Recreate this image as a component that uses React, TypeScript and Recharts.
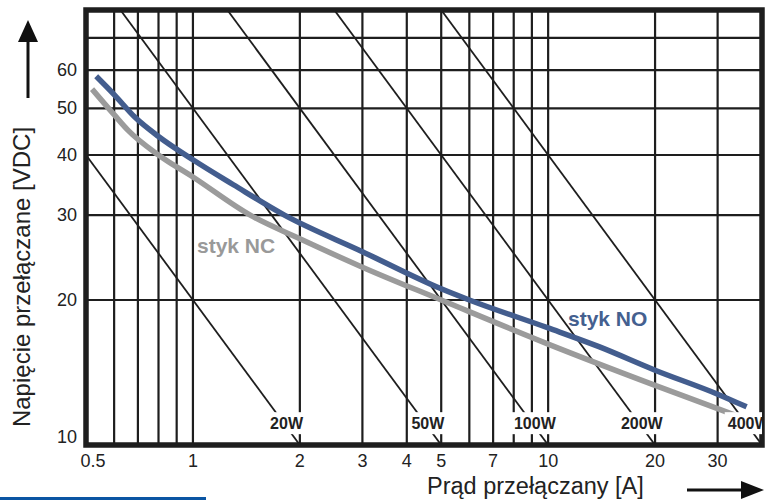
import React from "react";
import {
  LineChart,
  Line,
  XAxis,
  YAxis,
  CartesianGrid,
  ReferenceArea,
} from "recharts";

const FONT = "'Liberation Sans', Arial, sans-serif";

// axis ticks (grid) and which of them carry a label
const xTicks = [0.5, 0.6, 0.7, 0.8, 0.9, 1, 2, 3, 4, 5, 6, 7, 8, 9, 10, 20, 30, 40];
const xLabels = [0.5, 1, 2, 3, 4, 5, 7, 10, 20, 30];
const yTicks = [10, 20, 30, 40, 50, 60, 70, 80];
const yLabels = [10, 20, 30, 40, 50, 60];

// constant power lines [W]
const powers = [20, 50, 100, 200, 400];

// styk NO
const noCurrent = [0.534, 0.6, 0.687, 0.8, 1.0, 1.3, 1.81, 3.0, 5.0, 6.0, 10, 13.9, 20, 30, 36.2];
const noVoltage = [58.3, 53.4, 47.9, 43.7, 39.1, 34.7, 30.0, 25.2, 21.1, 20.0, 17.5, 16.0, 14.3, 12.75, 12.0];

// styk NC
const ncCurrent = [0.52, 0.6, 0.657, 0.8, 1.0, 1.45, 2.0, 3.0, 5.0, 10, 20, 30, 35];
const ncVoltage = [54.8, 48.5, 45.0, 40.0, 36.0, 30.0, 26.8, 23.4, 20.0, 16.2, 13.3, 11.9, 11.4];

const noData = noCurrent.map((I, i) => ({ I, V: noVoltage[i] }));
const ncData = ncCurrent.map((I, i) => ({ I, V: ncVoltage[i] }));

const powerLines = powers.map((P) => [
  { I: Math.max(P / 80, 0.5), V: Math.min(80, P / 0.5) },
  { I: P / 10, V: 10 },
]);
const powerLabels = powers.map((P) => ({ I: P / 10.9, V: 11.1, label: `${P}W` }));

const XTick = (props: any) => {
  const { x, y, payload } = props;
  if (!xLabels.includes(payload.value)) return <g />;
  const dx = payload.value === 0.5 ? 7 : 0;
  return (
    <text x={x + dx} y={y + 22} textAnchor="middle" fontSize={18} fill="#222" fontFamily={FONT}>
      {payload.value}
    </text>
  );
};

const YTick = (props: any) => {
  const { x, y, payload } = props;
  if (!yLabels.includes(payload.value)) return <g />;
  const dy = payload.value === 10 ? -8 : 0;
  return (
    <text x={x - 9} y={y + 6 + dy} textAnchor="end" fontSize={18} fill="#222" fontFamily={FONT}>
      {payload.value}
    </text>
  );
};

const PowerLabel = (props: any) => {
  const { cx, cy, payload } = props;
  const w = payload.label.length * 11 + 4;
  return (
    <g key={payload.label}>
      <rect x={cx - w / 2} y={cy - 11} width={w} height={22} fill="#fff" />
      <text
        x={cx}
        y={cy + 6}
        textAnchor="middle"
        fontSize={16}
        fontWeight="bold"
        fill="#222"
        fontFamily={FONT}
      >
        {payload.label}
      </text>
    </g>
  );
};

export default function App() {
  return (
    <div style={{ position: "absolute", left: 0, top: 0, width: 774, height: 500, background: "#fff" }}>
      <LineChart width={774} height={500} margin={{ top: 10, right: 12, bottom: 0, left: 0 }}>
        <CartesianGrid stroke="#1e1e1e" strokeWidth={2.2} />
        <XAxis
          type="number"
          dataKey="I"
          scale="log"
          domain={[0.5, 40]}
          ticks={xTicks}
          interval={0}
          allowDataOverflow
          height={55}
          tickSize={0}
          tickMargin={0}
          tickLine={false}
          axisLine={false}
          tick={XTick}
        />
        <YAxis
          type="number"
          dataKey="V"
          scale="log"
          domain={[10, 80]}
          ticks={yTicks}
          interval={0}
          allowDataOverflow
          width={86}
          tickSize={0}
          tickMargin={0}
          tickLine={false}
          axisLine={false}
          tick={YTick}
        />
        {powerLines.map((d, i) => (
          <Line
            key={powers[i]}
            data={d}
            dataKey="V"
            type="linear"
            stroke="#1e1e1e"
            strokeWidth={1.8}
            dot={false}
            isAnimationActive={false}
          />
        ))}
        <Line
          data={ncData}
          dataKey="V"
          type="monotone"
          stroke="#9b9b9b"
          strokeWidth={5.5}
          dot={false}
          isAnimationActive={false}
        />
        <Line
          data={noData}
          dataKey="V"
          type="monotone"
          stroke="#435d8e"
          strokeWidth={5.5}
          dot={false}
          isAnimationActive={false}
        />
        <ReferenceArea
          x1={0.5}
          x2={40}
          y1={10}
          y2={80}
          fill="none"
          stroke="#1e1e1e"
          strokeWidth={5.5}
          ifOverflow="visible"
        />
        <Line
          data={powerLabels}
          dataKey="V"
          stroke="none"
          dot={PowerLabel}
          isAnimationActive={false}
        />
      </LineChart>
      <svg
        width={774}
        height={500}
        style={{ position: "absolute", left: 0, top: 0, pointerEvents: "none" }}
      >
        <text
          transform="translate(30,277) rotate(-90)"
          textAnchor="middle"
          fontSize={24}
          fill="#222"
          fontFamily={FONT}
        >
          Napięcie przełączane [VDC]
        </text>
        <line x1={28} y1={98} x2={28} y2={38} stroke="#111" strokeWidth={3} />
        <polygon points="28,20 18,42 38,42" fill="#111" />
        <text x={427} y={494} fontSize={23.5} fill="#222" fontFamily={FONT}>
          Prąd przełączany [A]
        </text>
        <line x1={687} y1={490} x2={745} y2={490} stroke="#111" strokeWidth={3} />
        <polygon points="764,490 741,481 741,499" fill="#111" />
        <text x={197} y={253} fontSize={21} fontWeight="bold" fill="#999" fontFamily={FONT}>
          styk NC
        </text>
        <text x={568} y={326} fontSize={21} fontWeight="bold" fill="#44608f" fontFamily={FONT}>
          styk NO
        </text>
        <rect x={0} y={497} width={206} height={3} fill="#0a55a3" />
      </svg>
    </div>
  );
}
